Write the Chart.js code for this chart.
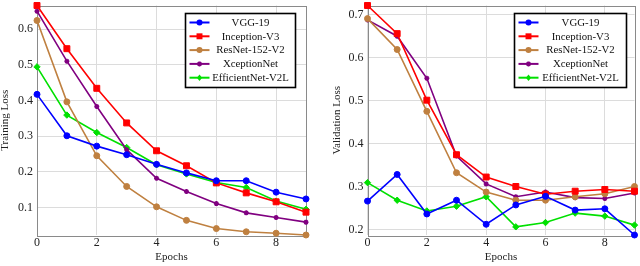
<!DOCTYPE html>
<html><head><meta charset="utf-8">
<script src="https://cdn.jsdelivr.net/npm/chart.js@4.4.1/dist/chart.umd.min.js"></script>
<style>
html,body{margin:0;padding:0;background:#fff;width:640px;height:266px;overflow:hidden}
.box{position:absolute;top:0;width:320px;height:266px}
</style></head><body>
<div class="box" style="left:0"><canvas id="c1" width="320" height="266"></canvas></div>
<div class="box" style="left:320px"><canvas id="c2" width="320" height="266"></canvas></div>
<script>
// ---------- data ----------
const epochs = [0,1,2,3,4,5,6,7,8,9];
const seriesNames = ['VGG-19','Inception-V3','ResNet-152-V2','XceptionNet','EfficientNet-V2L'];

const trainVGG19        = [0.417,0.301,0.272,0.248,0.221,0.197,0.175,0.175,0.143,0.124];
const trainInceptionV3  = [0.666,0.545,0.434,0.337,0.259,0.217,0.169,0.141,0.116,0.087];
const trainResNet152V2  = [0.624,0.396,0.245,0.159,0.102,0.064,0.041,0.032,0.028,0.023];
const trainXceptionNet  = [0.650,0.510,0.383,0.262,0.182,0.145,0.111,0.085,0.072,0.059];
const trainEfficientNet = [0.494,0.359,0.310,0.268,0.220,0.194,0.170,0.156,0.118,0.095];

const valVGG19          = [0.266,0.328,0.236,0.268,0.212,0.257,0.277,0.245,0.248,0.187];
const valInceptionV3    = [0.7215,0.656,0.501,0.374,0.322,0.300,0.282,0.289,0.293,0.289];
const valResNet152V2    = [0.691,0.619,0.475,0.332,0.287,0.268,0.268,0.276,0.283,0.300];
const valXceptionNet    = [0.688,0.650,0.552,0.371,0.306,0.276,0.287,0.274,0.272,0.285];
const valEfficientNet   = [0.309,0.268,0.243,0.254,0.276,0.206,0.216,0.238,0.231,0.210];

const xTickValues      = [0,2,4,6,8];
const trainYTickValues = [0.1,0.2,0.3,0.4,0.5,0.6];
const valYTickValues   = [0.2,0.3,0.4,0.5,0.6,0.7];

// ---------- styles ----------
const styles = [
  {color:'#0000ff', pointStyle:'circle',  radius:3},
  {color:'#ff0000', pointStyle:'rect',    radius:4.2},
  {color:'#bf8040', pointStyle:'circle',  radius:3},
  {color:'#800080', pointStyle:'star',    radius:2.5},
  {color:'#00e000', pointStyle:'rectRot', radius:3.2}
];
const SERIF = '"Liberation Serif","Times New Roman",serif';

function makeDatasets(seriesList){
  return seriesList.map((vals,i)=>({
    label: seriesNames[i],
    data: epochs.map((e,j)=>({x:e,y:vals[j]})),
    borderColor: styles[i].color,
    backgroundColor: styles[i].color,
    pointStyle: styles[i].pointStyle,
    pointRadius: styles[i].radius,
    pointBorderWidth: styles[i].pointStyle==='star'?1.5:1,
    borderWidth: 1.6,
    tension: 0,
    clip: false
  }));
}

function drawMarker(ctx, style, x, y, r, color){
  ctx.save();
  ctx.fillStyle = color; ctx.strokeStyle = color; ctx.lineWidth = 1.5;
  ctx.beginPath();
  if (style==='circle'){ ctx.arc(x,y,r,0,Math.PI*2); ctx.fill(); }
  else if (style==='rect'){ const s=r*Math.SQRT1_2; ctx.rect(x-s,y-s,2*s,2*s); ctx.fill(); }
  else if (style==='rectRot'){ ctx.moveTo(x,y-r); ctx.lineTo(x+r*0.8,y); ctx.lineTo(x,y+r); ctx.lineTo(x-r*0.8,y); ctx.closePath(); ctx.fill(); }
  else if (style==='star'){
    for (let k=0;k<4;k++){ const a=k*Math.PI/4; ctx.moveTo(x-Math.cos(a)*r,y-Math.sin(a)*r); ctx.lineTo(x+Math.cos(a)*r,y+Math.sin(a)*r); }
    ctx.stroke();
  }
  ctx.restore();
}

const frameAndLegend = {
  id:'frameAndLegend',
  beforeDatasetsDraw(chart){
    const ctx=chart.ctx, ca=chart.chartArea;
    ctx.save();
    ctx.strokeStyle='#8a8a8a'; ctx.lineWidth=1;
    ctx.strokeRect(Math.round(ca.left)+0.5, Math.round(ca.top)+0.5, Math.round(ca.right-ca.left), Math.round(ca.bottom-ca.top));
    ctx.restore();
  },
  afterDraw(chart, args, opts){
    const ctx=chart.ctx, ca=chart.chartArea;
    const w=opts.width, h=opts.height;
    const x0=Math.round(ca.right-opts.right-w)+0.5, y0=Math.round(ca.top+opts.top)+0.5;
    ctx.save();
    ctx.fillStyle='#fff'; ctx.fillRect(x0,y0,w,h);
    ctx.lineWidth=1.6; ctx.strokeStyle='#000'; ctx.strokeRect(x0,y0,w,h);
    ctx.font='10.8px '+SERIF; ctx.textAlign='center'; ctx.textBaseline='middle';
    chart.data.datasets.forEach((ds,i)=>{
      const y=y0+9+i*13.8;
      ctx.strokeStyle=ds.borderColor; ctx.lineWidth=2;
      ctx.beginPath(); ctx.moveTo(x0+4,y); ctx.lineTo(x0+24,y); ctx.stroke();
      drawMarker(ctx, ds.pointStyle, x0+14, y, ds.pointRadius, ds.borderColor);
      ctx.fillStyle='#111';
      ctx.fillText(ds.label,(x0+24+x0+w-4)/2,y+0.5);
    });
    ctx.restore();
  }
};

function makeChart(id, seriesList, yTicks, yTitle, yAxisWidth, yTitlePad, padRight, legendOpts){
  const all = seriesList.flat();
  return new Chart(document.getElementById(id), {
    type:'line',
    data:{datasets: makeDatasets(seriesList)},
    plugins:[frameAndLegend],
    options:{
      responsive:false, animation:false, devicePixelRatio:1,
      layout:{padding:{left:0,right:padRight,top:4,bottom:0}},
      plugins:{legend:{display:false}, tooltip:{enabled:false}, frameAndLegend:legendOpts},
      scales:{
        x:{
          type:'linear', min:0, max:9,
          afterBuildTicks:(s)=>{ s.ticks = xTickValues.map(v=>({value:v})); },
          afterFit:(s)=>{ s.height = 31; s.paddingRight = 0; },
          grid:{color:'#dcdcdc', lineWidth:1, drawTicks:false},
          border:{display:false},
          ticks:{padding:1, color:'#222', font:{family:SERIF, size:12}, callback:(v)=>String(v), maxRotation:0},
          title:{display:true, text:'Epochs', color:'#222', font:{family:SERIF, size:11, lineHeight:1}, padding:{top:0,bottom:3}}
        },
        y:{
          type:'linear', min:Math.min(...all), max:Math.max(...all),
          afterBuildTicks:(s)=>{ s.ticks = yTicks.map(v=>({value:v})); },
          afterFit:(s)=>{ s.width = yAxisWidth; s.paddingTop = 0; s.paddingBottom = 0; },
          grid:{color:'#dcdcdc', lineWidth:1, drawTicks:false},
          border:{display:false},
          ticks:{padding:4, color:'#222', font:{family:SERIF, size:12}, callback:(v)=>Number(v).toFixed(1)},
          title:{display:true, text:yTitle, color:'#222', font:{family:SERIF, size:11, lineHeight:1}, padding:{top:yTitlePad,bottom:0}}
        }
      }
    }
  });
}

makeChart('c1',
  [trainVGG19,trainInceptionV3,trainResNet152V2,trainXceptionNet,trainEfficientNet],
  trainYTickValues, 'Training Loss', 37, -0.5, 14,
  {width:110, height:74, right:11, top:7});

makeChart('c2',
  [valVGG19,valInceptionV3,valResNet152V2,valXceptionNet,valEfficientNet],
  valYTickValues, 'Validation Loss', 47.5, 11.5, 2,
  {width:112, height:74, right:9, top:7});
</script>
</body></html>
